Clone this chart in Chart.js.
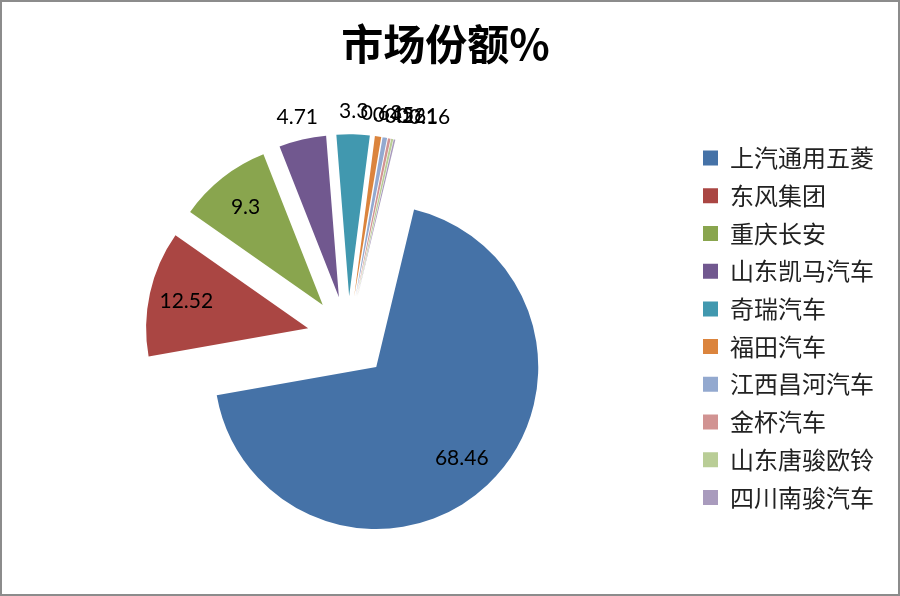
<!DOCTYPE html>
<html>
<head>
<meta charset="utf-8">
<title>市场份额%</title>
<script src="https://cdn.jsdelivr.net/npm/chart.js@4.4.0/dist/chart.umd.min.js"></script>
<style>
  html, body { margin: 0; padding: 0; background: #fff; }
  #wrap { width: 900px; height: 596px; position: relative; }
</style>
</head>
<body>
<div id="wrap"><canvas id="shareChart"></canvas></div>
<script>
// data (small slices estimated, labels overlap there)
const brands = ["上汽通用五菱", "东风集团", "重庆长安", "山东凯马汽车", "奇瑞汽车",
  "福田汽车", "江西昌河汽车", "金杯汽车", "山东唐骏欧铃", "四川南骏汽车"];
const shares = [68.46, 12.52, 9.3, 4.71, 3.3, 0.63, 0.45, 0.26, 0.21, 0.16];
const sliceColors = ["#4572A7", "#AA4643", "#89A54E", "#71588F", "#4198AF",
  "#DB843D", "#93A9CF", "#D19392", "#B9CD96", "#A99BBD"];

const EXPLODE = 41; // every slice pulled out from the centre
const MIN_LABEL_STEP = 12; // outside labels on the right get pushed apart a bit

// white page + grey frame
const framePlugin = {
  id: "frame",
  beforeDraw(chart) {
    const ctx = chart.ctx;
    ctx.save();
    ctx.fillStyle = "#fff";
    ctx.fillRect(0, 0, chart.width, chart.height);
    ctx.restore();
  },
  afterDraw(chart) {
    const ctx = chart.ctx;
    ctx.save();
    ctx.strokeStyle = "#8c8c8c";
    ctx.lineWidth = 2;
    ctx.strokeRect(1, 1, chart.width - 2, chart.height - 2);
    ctx.restore();
  }
};

// draw the arcs ourselves, each one shifted along its middle angle
const explodePlugin = {
  id: "explode",
  beforeDatasetDraw(chart, args) {
    const ctx = chart.ctx;
    args.meta.data.forEach(arc => {
      const mid = (arc.startAngle + arc.endAngle) / 2;
      ctx.save();
      ctx.translate(Math.cos(mid) * EXPLODE, Math.sin(mid) * EXPLODE);
      arc.draw(ctx);
      ctx.restore();
    });
    return false;
  }
};

// value labels: inside for big slices, outside for the rest
const labelPlugin = {
  id: "sliceLabels",
  afterDatasetsDraw(chart) {
    const ctx = chart.ctx;
    const meta = chart.getDatasetMeta(0);
    ctx.save();
    ctx.font = "21px Lato";
    ctx.fillStyle = "#000";
    ctx.textAlign = "center";
    ctx.textBaseline = "middle";
    let lastX = null;
    meta.data.forEach((arc, i) => {
      const mid = (arc.startAngle + arc.endAngle) / 2;
      const inside = shares[i] > 5;
      const r = inside ? arc.outerRadius * 0.77 : arc.outerRadius + 23;
      const d = EXPLODE + r;
      let x = arc.x + Math.cos(mid) * d;
      const y = arc.y + Math.sin(mid) * d;
      if (!inside && Math.cos(mid) > 0) {
        if (lastX !== null && x < lastX + MIN_LABEL_STEP) x = lastX + MIN_LABEL_STEP;
        lastX = x;
      }
      ctx.fillText(String(shares[i]), x, y);
    });
    ctx.restore();
  }
};

const ctx = document.getElementById("shareChart").getContext("2d");

new Chart(ctx, {
  type: "pie",
  data: {
    labels: brands,
    datasets: [{
      data: shares,
      backgroundColor: sliceColors,
      borderWidth: 0
    }]
  },
  options: {
    responsive: true,
    maintainAspectRatio: false,
    animation: false,
    rotation: 13.5,
    radius: 162,
    clip: false,
    layout: { padding: { left: 7, right: 16, top: 0, bottom: 54 } },
    plugins: {
      title: {
        display: true,
        text: "市场份额%",
        color: "#000",
        font: { family: "'Noto Sans CJK SC'", size: 42, weight: "bold" },
        padding: { top: 19, bottom: 63 }
      },
      legend: {
        position: "right",
        align: "start",
        fullSize: false,
        labels: {
          boxWidth: 15,
          boxHeight: 15,
          padding: 13.7,
          color: "#222",
          font: { family: "'Noto Sans CJK SC'", size: 24 }
        }
      },
      tooltip: { enabled: false }
    }
  },
  plugins: [framePlugin, explodePlugin, labelPlugin]
});
</script>
</body>
</html>
